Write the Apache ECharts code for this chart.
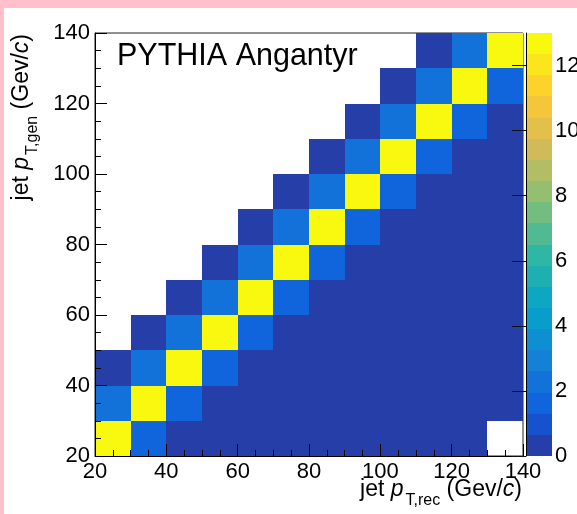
<!DOCTYPE html>
<html><head><meta charset="utf-8">
<script src="https://cdn.jsdelivr.net/npm/echarts@6.0.0/dist/echarts.min.js"></script>
<style>
html,body{margin:0;padding:0;background:#fff;}
#chart{position:absolute;left:0;top:0;width:577px;height:514px;}
.pink{position:absolute;background:#ffc0cb;}
</style></head><body>
<div id="chart"></div>
<div class="pink" style="left:0;top:0;width:577px;height:8px"></div>
<div class="pink" style="left:0;top:0;width:4px;height:514px"></div>
<script>
// ---- data ----
const recBinLow = [20, 30, 40, 50, 60, 70, 80, 90, 100, 110, 120, 130];
const genBinLow = [20, 30, 40, 50, 60, 70, 80, 90, 100, 110, 120, 130];
const binWidth = 10;
// rows: gen bins (20-30 ... 130-140); columns: rec bins
const row0  = [12.9, 1.6, 0.2, 0.1, 0.1, 0.1, 0.1, 0.1, 0.1, 0.1, 0.1, 0];
const row1  = [2.3, 12.8, 1.6, 0.2, 0.1, 0.1, 0.1, 0.1, 0.1, 0.1, 0.1, 0.1];
const row2  = [0.3, 2.3, 12.7, 1.6, 0.2, 0.1, 0.1, 0.1, 0.1, 0.1, 0.1, 0.1];
const row3  = [0, 0.3, 2.3, 12.8, 1.6, 0.2, 0.1, 0.1, 0.1, 0.1, 0.1, 0.1];
const row4  = [0, 0, 0.3, 2.3, 12.9, 1.6, 0.2, 0.1, 0.1, 0.1, 0.1, 0.1];
const row5  = [0, 0, 0, 0.3, 2.3, 12.8, 1.6, 0.2, 0.1, 0.1, 0.1, 0.1];
const row6  = [0, 0, 0, 0, 0.3, 2.3, 12.7, 1.6, 0.2, 0.1, 0.1, 0.1];
const row7  = [0, 0, 0, 0, 0, 0.3, 2.3, 12.8, 1.6, 0.2, 0.1, 0.1];
const row8  = [0, 0, 0, 0, 0, 0, 0.3, 2.3, 12.9, 1.6, 0.2, 0.1];
const row9  = [0, 0, 0, 0, 0, 0, 0, 0.3, 2.3, 12.8, 1.6, 0.2];
const row10 = [0, 0, 0, 0, 0, 0, 0, 0, 0.3, 2.3, 12.7, 1.6];
const row11 = [0, 0, 0, 0, 0, 0, 0, 0, 0, 0.3, 2.3, 13.0];
const rows = [row0, row1, row2, row3, row4, row5, row6, row7, row8, row9, row10, row11];
const xTickLabels = [20, 40, 60, 80, 100, 120, 140];
const yTickLabels = [20, 40, 60, 80, 100, 120, 140];
const zTickLabels = [0, 2, 4, 6, 8, 10, 12];
const nContours = 20;

// ---- palette (ROOT kBird) ----
const pStops = [0.0, 0.125, 0.25, 0.375, 0.5, 0.625, 0.75, 0.875, 1.0];
const pRed   = [0.2082, 0.0592, 0.0780, 0.0232, 0.1802, 0.5301, 0.8186, 0.9956, 0.9764];
const pGreen = [0.1664, 0.3599, 0.5041, 0.6419, 0.7178, 0.7492, 0.7328, 0.7862, 0.9832];
const pBlue  = [0.5293, 0.8684, 0.8385, 0.7914, 0.6425, 0.4662, 0.3499, 0.1968, 0.0539];
function paletteColor(k) {
  let start = 0;
  for (let g = 1; g < pStops.length; g++) {
    const n = Math.floor(255 * pStops[g]) - Math.floor(255 * pStops[g - 1]);
    if (k < start + n || g === pStops.length - 1) {
      const c = k - start;
      const f = (a) => Math.round(255 * (a[g - 1] + c * (a[g] - a[g - 1]) / n));
      return 'rgb(' + f(pRed) + ',' + f(pGreen) + ',' + f(pBlue) + ')';
    }
    start += n;
  }
}
const levelColors = [];
for (let i = 0; i < nContours; i++) {
  levelColors.push(paletteColor(Math.floor((i + 0.99) * 255 / nContours)));
}

// ---- build data ----
const cells = [];
let zMax = 0;
rows.forEach((r, gi) => r.forEach((v, ri) => {
  if (v > 0) cells.push([recBinLow[ri], genBinLow[gi], v]);
  zMax = Math.max(zMax, v);
}));
const zStep = zMax / nContours;
const pieces = levelColors.map((c, i) => i === nContours - 1
  ? { gte: i * zStep, lte: zMax * 1.001, color: c }
  : { gte: i * zStep, lt: (i + 1) * zStep, color: c });
const cbLevels = levelColors.map((c, i) => [0, i * zStep, (i + 1) * zStep, i]);

const FONT = 'Liberation Sans';
const axisCommon = {
  type: 'value', min: 20, max: 140, interval: 20, z: 10,
  splitLine: { show: false },
  axisLine: { show: true, lineStyle: { color: '#000', width: 1 } },
  axisTick: { show: true, inside: true, length: 12, lineStyle: { color: '#000', width: 1 } },
  minorTick: { show: true, splitNumber: 4, length: 6, lineStyle: { color: '#000', width: 1 } },
  axisLabel: { color: '#000', fontSize: 22, fontFamily: FONT, margin: 5 }
};

const titleRich = {
  n: { fontSize: 23, fontFamily: FONT, color: '#000', verticalAlign: 'top' },
  i: { fontSize: 23, fontFamily: FONT, color: '#000', fontStyle: 'italic', verticalAlign: 'top' },
  s: { fontSize: 16, fontFamily: FONT, color: '#000', verticalAlign: 'top', padding: [15, 0, 0, 2] }
};

const chart = echarts.init(document.getElementById('chart'), null, { renderer: 'canvas' });

chart.setOption({
  animation: false,
  backgroundColor: '#fff',
  grid: [
    { left: 95, top: 33, width: 428, height: 423, show: true, borderColor: '#222', borderWidth: 1,
      backgroundColor: 'transparent', outerBoundsMode: 'none', containLabel: false },
    { left: 526, top: 33, width: 26, height: 423, show: false, outerBoundsMode: 'none', containLabel: false }
  ],
  xAxis: [
    Object.assign({}, axisCommon, { gridIndex: 0, position: 'bottom' }),
    { type: 'value', gridIndex: 1, min: 0, max: 1, show: false }
  ],
  yAxis: [
    Object.assign({}, axisCommon, { gridIndex: 0, position: 'left' }),
    { type: 'value', gridIndex: 1, min: 0, max: zMax, position: 'right', z: 10,
      splitLine: { show: false },
      axisLine: { show: true, lineStyle: { color: '#000', width: 1 } },
      axisTick: { show: true, inside: true, length: 14, customValues: zTickLabels, lineStyle: { color: '#111', width: 1 } },
      axisLabel: { color: '#000', fontSize: 22, fontFamily: FONT, margin: 3, customValues: zTickLabels }
    }
  ],
  visualMap: [{ type: 'piecewise', show: false, dimension: 2, seriesIndex: 0, pieces: pieces }],
  series: [{
    type: 'custom', xAxisIndex: 0, yAxisIndex: 0, data: cells, z: 2,
    encode: { x: 0, y: 1 },
    renderItem: function (params, api) {
      const x0 = api.value(0), y0 = api.value(1);
      const p1 = api.coord([x0, y0 + binWidth]);
      const p2 = api.coord([x0 + binWidth, y0]);
      const x = Math.round(p1[0]), y = Math.round(p1[1]);
      return { type: 'rect',
        shape: { x: x, y: y, width: Math.round(p2[0]) - x, height: Math.round(p2[1]) - y },
        style: { fill: api.visual('color') } };
    }
  }, {
    type: 'custom', xAxisIndex: 1, yAxisIndex: 1, data: cbLevels, z: 2, silent: true,
    encode: { x: 0, y: [1, 2] },
    renderItem: function (params, api) {
      const p1 = api.coord([0, api.value(2)]);
      const p2 = api.coord([1, api.value(1)]);
      const x = Math.round(p1[0]), y = Math.round(p1[1]);
      return { type: 'rect',
        shape: { x: x, y: y, width: Math.round(p2[0]) - x, height: Math.round(p2[1]) - y },
        style: { fill: levelColors[api.value(3)] } };
    }
  }],
  graphic: [
    { type: 'text', left: 117, top: 41, z: 20,
      style: { text: 'PYTHIA Angantyr', fontSize: 30.5, fontFamily: FONT, fill: '#000' } },
    { type: 'text', x: 522, y: 478, z: 20,
      style: { text: '{n|jet }{i|p}{s|T,rec}{n| (Gev/}{i|c}{n|)}', rich: titleRich, align: 'right', verticalAlign: 'top' } },
    { type: 'text', x: 10, y: 34, rotation: Math.PI / 2, z: 20,
      style: { text: '{n|jet }{i|p}{s|T,gen}{n| (Gev/}{i|c}{n|)}', rich: titleRich, align: 'right', verticalAlign: 'top' } }
  ]
});
</script>
</body></html>
